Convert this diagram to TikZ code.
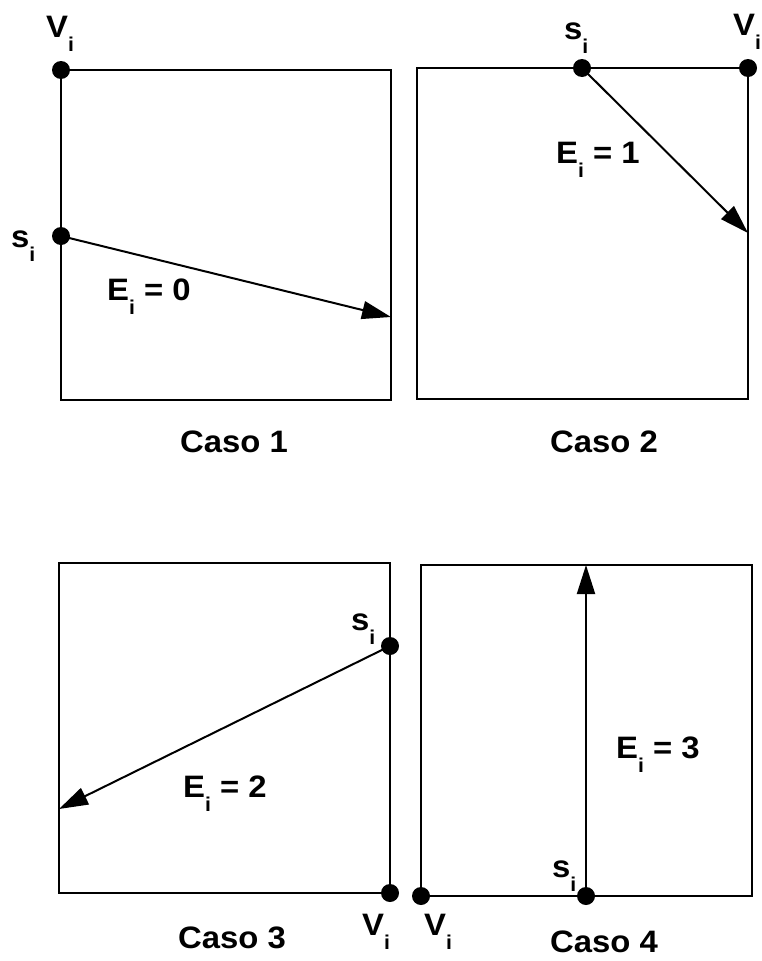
\documentclass[tikz,border=0pt]{standalone}
\usepackage{fontspec}
\setmainfont{Liberation Sans}[FakeStretch=1.06]
\usetikzlibrary{arrows.meta}
\newcommand{\sbi}{\raisebox{-14pt}{\fontsize{20}{20}\selectfont i}}
\tikzset{
  box/.style={draw, line width=2.3pt},
  dotn/.style={circle, fill=black, inner sep=0pt, minimum size=18pt},
  lab/.style={anchor=base west, inner sep=0pt, font=\fontsize{31}{31}\selectfont\bfseries},
  arr/.style={line width=2pt, -{Triangle[length=29pt,width=18pt]}}
}
\begin{document}
\begin{tikzpicture}[x=1pt,y=-1pt]
\useasboundingbox (0,0) rectangle (761,961);
% Case 1
\draw[box] (61,70) rectangle (391,400);
\node[dotn] (v1) at (61,70) {};
\node[dotn] (s1) at (61,236) {};
\coordinate (e1) at (391,317);
\draw[arr] (s1.center) -- (e1);
\node[lab] (lv1) at (46,37) {V\sbi};
\node[lab] (ls1) at (11,247) {s\sbi};
\node[lab] (le1) at (107,300) {E\sbi{} = 0};
\node[lab] (c1) at (180,452) {Caso 1};
% Case 2
\draw[box] (417,68) rectangle (748,399);
\node[dotn] (s2) at (582,68) {};
\node[dotn] (v2) at (748,68) {};
\coordinate (e2) at (748,233);
\draw[arr] (s2.center) -- (e2);
\node[lab] (ls2) at (564,39) {s\sbi};
\node[lab] (lv2) at (733,35) {V\sbi};
\node[lab] (le2) at (556,163) {E\sbi{} = 1};
\node[lab] (c2) at (550,452) {Caso 2};
% Case 3
\draw[box] (59,563) rectangle (390,893);
\node[dotn] (s3) at (390,646) {};
\node[dotn] (v3) at (390,893) {};
\coordinate (e3) at (59,809);
\draw[arr] (s3.center) -- (e3);
\node[lab] (ls3) at (351,630) {s\sbi};
\node[lab] (le3) at (183,797) {E\sbi{} = 2};
\node[lab] (lv3) at (362,935) {V\sbi};
\node[lab] (c3) at (178,948) {Caso 3};
% Case 4
\draw[box] (421,565) rectangle (752,896);
\node[dotn] (v4) at (421,896) {};
\node[dotn] (s4) at (586,896) {};
\coordinate (e4) at (586,565);
\draw[arr] (s4.center) -- (e4);
\node[lab] (lv4) at (424,935) {V\sbi};
\node[lab] (ls4) at (552,877) {s\sbi};
\node[lab] (le4) at (616,758) {E\sbi{} = 3};
\node[lab] (c4) at (550,952) {Caso 4};
\end{tikzpicture}
\end{document}
